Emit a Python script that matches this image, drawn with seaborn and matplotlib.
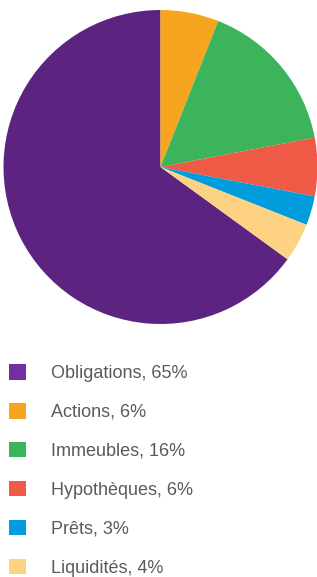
import matplotlib
matplotlib.use('Agg')
import matplotlib.pyplot as plt
import seaborn as sns

################################################################################

categories = ['Obligations', 'Actions', 'Immeubles', 'Hypothèques', 'Prêts', 'Liquidités']
shares = [65, 6, 16, 6, 3, 4]
colors = ['#5c2480', '#f7a51e', '#3bb45b', '#ef5a46', '#009cdc', '#fdd282']
labels = [f'{c}, {s}%' for c, s in zip(categories, shares)]

################################################################################

sns.set_theme(style = 'white')
plt.rcParams['font.family'] = ['Liberation Sans', 'DejaVu Sans']

W, H = 317, 577
fig = plt.figure(figsize = (W / 100, H / 100), dpi = 100)

# pie: centre (160.5, 167) px, radius 157 px
r = 157
ax = fig.add_axes([(160.5 - r) / W, (H - 167 - r) / H, 2 * r / W, 2 * r / H])
wedges, _ = ax.pie(shares, colors = colors, startangle = 324, counterclock = False,
                   radius = 1, wedgeprops = dict(linewidth = 0))
ax.set_xlim(-1, 1)
ax.set_ylim(-1, 1)
ax.set_aspect('equal')
ax.axis('off')

leg = fig.legend(wedges, labels, loc = 'upper left',
                 bbox_to_anchor = (9 / W, 1 - 364 / H),
                 frameon = False, fontsize = 13,
                 handlelength = 0.95, handleheight = 0.95,
                 handletextpad = 1.39, labelspacing = 1.16,
                 borderaxespad = 0, borderpad = 0)
for t in leg.get_texts():
    t.set_color('#5a5a5a')
# legend swatch for Obligations is a touch lighter than the wedge
leg.legend_handles[0].set_facecolor('#7030a0')

fig.savefig('out.png', dpi = 100)
